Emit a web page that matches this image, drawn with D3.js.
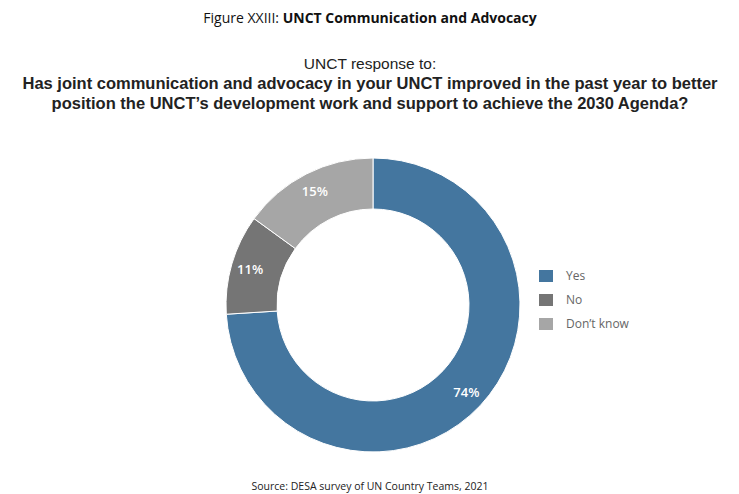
<!DOCTYPE html>
<html>
<head>
<meta charset="utf-8">
<script src="https://cdn.jsdelivr.net/npm/d3@7"></script>
<style>
  html, body { margin: 0; padding: 0; background: #fff; }
  svg { display: block; }
</style>
</head>
<body>
<svg id="chart" width="739" height="494"></svg>
<script>
// Survey answers and their shares (percent)
const categories = ["Yes", "No", "Don\u2019t know"];
const shares = [74, 11, 15];
const colours = ["#44769f", "#757575", "#a6a6a6"];

const svg = d3.select("#chart");
const cx = 373, cy = 305, rOuter = 147, rInner = 96;
const font = "'Open Sans', 'Noto Sans', sans-serif";
const headFont = "'Liberation Sans', Arial, sans-serif";

// Squeeze a centred text horizontally so it spans the given width
function fitWidth(textSel, width) {
  const natural = textSel.node().getComputedTextLength();
  const sx = Math.min(1, width / natural);
  textSel.attr("transform", `scale(${sx},1)`);
}

// Heading
const titleG = svg.append("g").attr("transform", "translate(370,23)");
const title = titleG.append("text")
  .attr("text-anchor", "middle")
  .attr("font-family", font).attr("font-size", 14).attr("fill", "#111");
title.append("tspan").text("Figure XXIII: ");
title.append("tspan").attr("font-weight", 700).text("UNCT Communication and Advocacy");
fitWidth(title, 350);

const subG = svg.append("g").attr("transform", "translate(370,69)");
const sub = subG.append("text")
  .attr("text-anchor", "middle")
  .attr("font-family", headFont).attr("font-size", 15.5).attr("fill", "#222")
  .text("UNCT response to:");
fitWidth(sub, 148);

const qLines = [
  { t: "Has joint communication and advocacy in your UNCT improved in the past year to better", y: 89, w: 722 },
  { t: "position the UNCT\u2019s development work and support to achieve the 2030 Agenda?", y: 109, w: 658 }
];
qLines.forEach(q => {
  const lg = svg.append("g").attr("transform", `translate(370,${q.y})`);
  const t = lg.append("text")
    .attr("text-anchor", "middle")
    .attr("font-family", headFont).attr("font-size", 16.5).attr("font-weight", 700).attr("fill", "#222")
    .text(q.t);
  fitWidth(t, q.w);
});

// Donut
const data = categories.map((c, i) => ({ cat: c, value: shares[i], colour: colours[i] }));
const pie = d3.pie().value(d => d.value).sort(null);
const arc = d3.arc().innerRadius(rInner).outerRadius(rOuter);
const labelArc = d3.arc().innerRadius(128).outerRadius(128);
const arcs = pie(data);

const g = svg.append("g").attr("transform", `translate(${cx},${cy})`);
g.selectAll("path").data(arcs).join("path")
  .attr("d", arc)
  .attr("fill", d => d.data.colour)
  .attr("stroke", "#fff").attr("stroke-width", 1);

g.selectAll("text.lbl").data(arcs).join("text")
  .attr("class", "lbl")
  .attr("transform", d => { const [x, y] = labelArc.centroid(d); return `translate(${x},${y})`; })
  .attr("dy", "0.35em")
  .attr("text-anchor", "middle")
  .attr("font-family", font).attr("font-size", 13).attr("font-weight", 600).attr("fill", "#fff")
  .text(d => d.data.value + "%");

// Legend
const leg = svg.append("g").attr("transform", "translate(539,270)");
const items = leg.selectAll("g").data(data).join("g")
  .attr("transform", (d, i) => `translate(0,${i * 24})`);
items.append("rect").attr("width", 14).attr("height", 12).attr("fill", d => d.colour);
items.append("text")
  .attr("x", 27).attr("y", 6).attr("dy", "0.35em")
  .attr("font-family", font).attr("font-size", 12).attr("fill", "#666")
  .text(d => d.cat);

// Source
svg.append("text")
  .attr("x", 370).attr("y", 490)
  .attr("text-anchor", "middle")
  .attr("font-family", font).attr("font-size", 10.5).attr("fill", "#222")
  .text("Source: DESA survey of UN Country Teams, 2021");
</script>
</body>
</html>
